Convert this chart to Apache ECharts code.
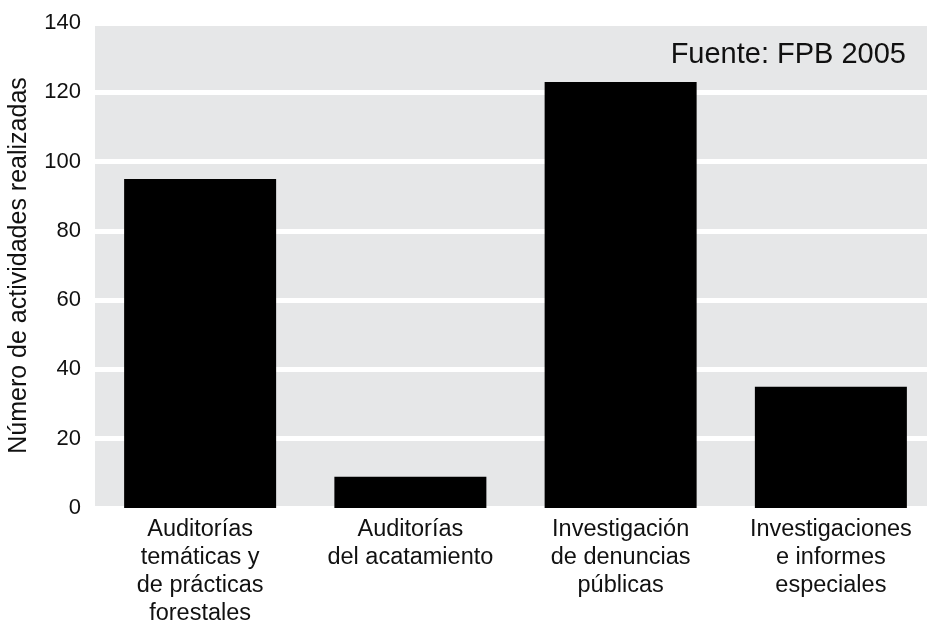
<!DOCTYPE html>
<html>
<head>
<meta charset="utf-8">
<script src="https://cdn.jsdelivr.net/npm/echarts@6/dist/echarts.min.js"></script>
<style>
  html, body { margin: 0; padding: 0; background: #ffffff; }
  #chart { width: 927px; height: 621px; }
</style>
</head>
<body>
<div id="chart"></div>
<script>
// Actividades del FPB por tipo
const categories = [
  'Auditorías\ntemáticas y\nde prácticas\nforestales',
  'Auditorías\ndel acatamiento',
  'Investigación\nde denuncias\npúblicas',
  'Investigaciones\ne informes\nespeciales'
];
const actividades = [95, 9, 123, 35];
const yTicks = { min: 0, max: 140, interval: 20 };
const axisTitle = 'Número de actividades realizadas';
const sourceNote = 'Fuente: FPB 2005';

const font = '"Liberation Sans", Arial, Helvetica, sans-serif';
const chart = echarts.init(document.getElementById('chart'), null, { renderer: 'canvas' });

chart.setOption({
  animation: false,
  backgroundColor: '#ffffff',
  textStyle: { fontFamily: font },
  // the plot panel runs past the right edge of the canvas
  grid: {
    left: 95, top: 23, width: 841, height: 485,
    containLabel: false, outerBoundsMode: 'none',
    show: true, backgroundColor: '#e6e7e8', borderWidth: 0
  },
  xAxis: {
    type: 'category',
    data: categories,
    axisLine: { show: false },
    axisTick: { show: false },
    axisLabel: {
      color: '#111', fontSize: 23.5, lineHeight: 28, margin: 8,
      fontFamily: font, interval: 0
    }
  },
  yAxis: {
    type: 'value',
    min: yTicks.min, max: yTicks.max, interval: yTicks.interval,
    name: axisTitle,
    nameLocation: 'middle',
    nameGap: 63,
    nameTextStyle: { color: '#111', fontSize: 25, fontFamily: font },
    axisLine: { show: false },
    axisTick: { show: false },
    axisLabel: { color: '#111', fontSize: 22, margin: 14, fontFamily: font },
    splitLine: { show: true, lineStyle: { color: '#ffffff', width: 5 } }
  },
  graphic: [{
    type: 'text',
    right: 21,
    top: 40,
    style: { text: sourceNote, fill: '#111', fontSize: 29, fontFamily: font }
  }],
  series: [{
    type: 'bar',
    data: actividades,
    barWidth: 152,
    itemStyle: { color: '#000000' },
    z: 3
  }]
});
</script>
</body>
</html>
